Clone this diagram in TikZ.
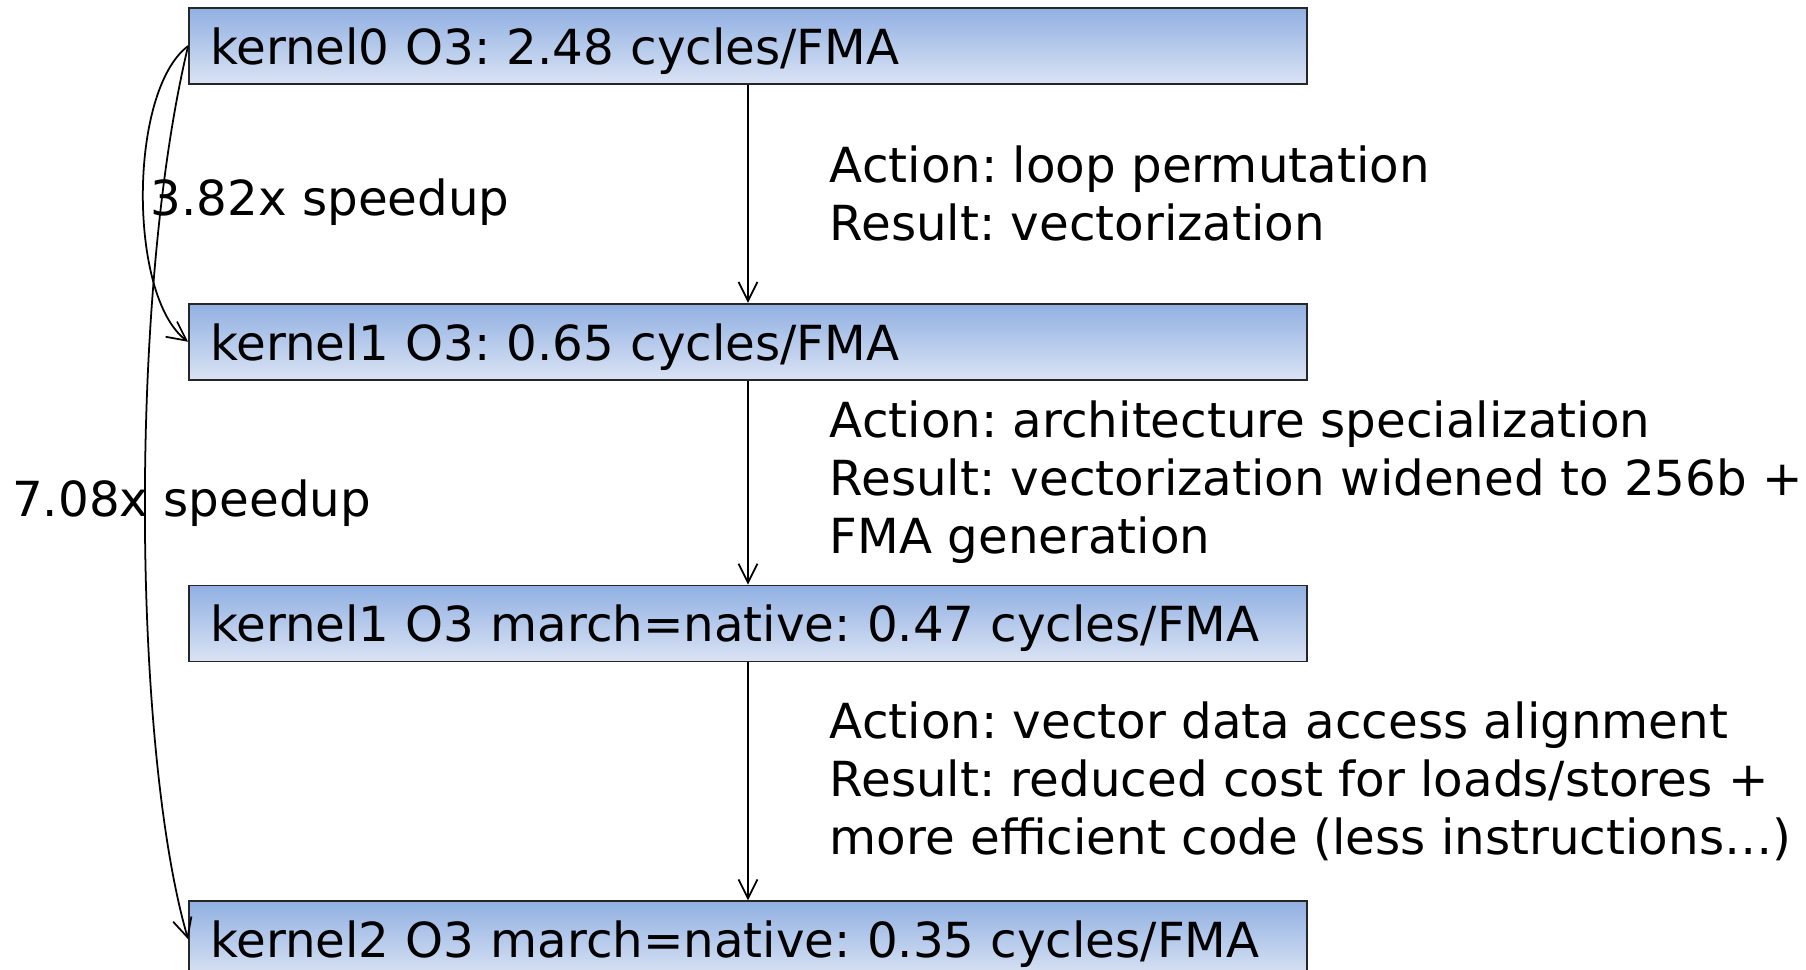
\documentclass[tikz,border=0pt]{standalone}
\usepackage{fontspec}
\setmainfont{DejaVu Sans}
\usetikzlibrary{arrows.meta,positioning}

\definecolor{boxtop}{HTML}{91B0E2}
\definecolor{boxbot}{HTML}{DAE3F4}

\begin{document}
\frenchspacing
\begin{tikzpicture}[
    stage/.style={draw=black!85, line width=0.5pt, top color=boxtop, bottom color=boxbot,
        minimum width=11.18cm, minimum height=0.76cm, inner xsep=0.21cm,
        text width=10.76cm, text depth=0pt, align=left, font=\fontsize{13.75}{16.4}\selectfont},
    flow/.style={-{Straight Barb[length=1.9mm,width=1.9mm]}, line width=0.5pt},
    note/.style={anchor=west, xshift=0.81cm, inner sep=0pt, align=left,
        font=\fontsize{13.75}{16.5}\selectfont},
    gain/.style={anchor=west, inner sep=0pt, font=\fontsize{13.75}{16.4}\selectfont}
]
    \useasboundingbox (0,0) rectangle (18.06,-9.70);

    % The four kernel versions
    \node[stage] (k0) at (7.48,-0.46) {kernel0 O3: 2.48 cycles/FMA};
    \node[stage, below=2.18cm of k0] (k1) {kernel1 O3: 0.65 cycles/FMA};
    \node[stage, below=2.04cm of k1] (k2) {kernel1 O3 march=native: 0.47 cycles/FMA};
    \node[stage, below=2.38cm of k2] (k3) {kernel2 O3 march=native: 0.35 cycles/FMA};

    % Steps between versions
    \draw[flow] (k0) -- node[note] {Action: loop permutation\\Result: vectorization} (k1);
    \draw[flow] (k1) -- node[note] {Action: architecture specialization\\Result: vectorization widened to 256b +\\FMA generation} (k2);
    \draw[flow] (k2) -- node[note] {Action: vector data access alignment\\Result: reduced cost for loads/stores +\\more efficient code (less instructions…)} (k3);

    % Overall speedups
    \draw[flow] (k0.west) .. controls +(-0.6,-0.45) and +(-0.6,0.45) .. (k1.west);
    \draw[flow] (k0.west) .. controls +(-0.6,-2.5) and +(-0.55,1.9) .. (k3.west);
    \node[gain] (g1) at (1.50,-2.02) {3.82x speedup};
    \node[gain] (g2) at (0.115,-5.03) {7.08x speedup};
\end{tikzpicture}
\end{document}
